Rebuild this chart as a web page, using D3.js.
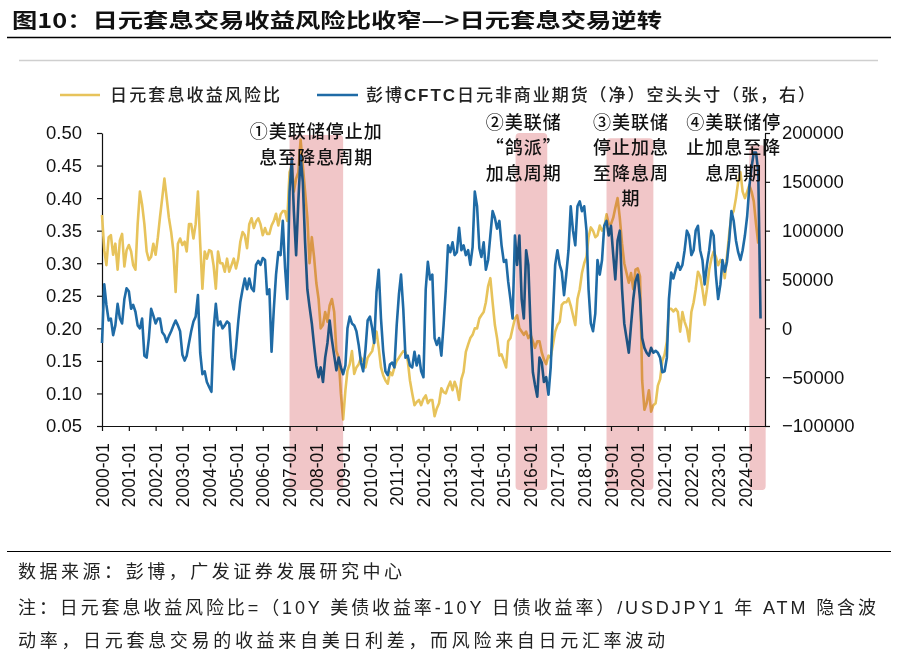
<!DOCTYPE html>
<html><head><meta charset="utf-8">
<script src="https://cdn.jsdelivr.net/npm/d3@7/dist/d3.min.js"></script>
<style>
body{margin:0;background:#fff}
svg{display:block}
text{font-family:"Noto Sans CJK SC","Liberation Sans",sans-serif}
.num{font-family:"Liberation Sans",Arial,sans-serif}
.mix{font-family:"Liberation Sans","Noto Sans CJK SC",sans-serif}
</style>
</head><body><div id="chart"></div>
<script>
// ---------------- data (monthly, starting 2000-01) ----------------
const seriesStart = [2000, 0];
const seriesNames = ["日元套息收益风险比", "彭博CFTC日元非商业期货（净）空头头寸（张，右）"];

const carryRatio = [
 0.374,0.32,0.297,0.34,0.343,0.313,0.33,0.29,0.335,0.345,0.295,0.32,
 0.328,0.318,0.297,0.29,0.36,0.41,0.39,0.36,0.318,0.305,0.31,0.33,
 0.313,0.34,0.37,0.40,0.43,0.40,0.37,0.348,0.318,0.256,0.33,0.338,
 0.328,0.333,0.318,0.36,0.36,0.338,0.36,0.41,0.33,0.261,0.318,0.307,
 0.32,0.318,0.297,0.261,0.318,0.30,0.30,0.287,0.307,0.287,0.297,0.307,
 0.292,0.307,0.333,0.348,0.343,0.323,0.36,0.369,0.354,0.364,0.369,0.36,
 0.343,0.354,0.345,0.345,0.358,0.365,0.376,0.358,0.375,0.38,0.38,0.365,
 0.44,0.45,0.41,0.43,0.44,0.49,0.45,0.41,0.37,0.30,0.34,0.31,
 0.27,0.245,0.20,0.205,0.225,0.21,0.235,0.245,0.225,0.165,0.155,0.10,
 0.06,0.105,0.135,0.145,0.165,0.13,0.14,0.145,0.155,0.15,0.14,0.155,
 0.16,0.165,0.18,0.195,0.17,0.14,0.128,0.12,0.115,0.133,0.128,0.14,
 0.15,0.155,0.16,0.165,0.163,0.15,0.12,0.10,0.082,0.087,0.09,0.082,
 0.092,0.097,0.085,0.09,0.09,0.065,0.077,0.085,0.108,0.102,0.10,0.11,
 0.118,0.105,0.118,0.108,0.09,0.122,0.133,0.164,0.175,0.185,0.19,0.20,
 0.20,0.215,0.22,0.225,0.24,0.265,0.277,0.24,0.205,0.185,0.158,0.16,
 0.15,0.14,0.18,0.185,0.20,0.215,0.22,0.20,0.195,0.19,0.195,0.185,
 0.19,0.18,0.17,0.18,0.18,0.163,0.152,0.145,0.158,0.155,0.175,0.195,
 0.205,0.21,0.236,0.24,0.24,0.246,0.235,0.22,0.205,0.245,0.26,0.285,
 0.30,0.31,0.34,0.355,0.35,0.34,0.343,0.358,0.35,0.355,0.375,0.36,
 0.36,0.37,0.385,0.40,0.37,0.33,0.30,0.285,0.27,0.285,0.26,0.29,
 0.292,0.28,0.12,0.075,0.085,0.105,0.072,0.082,0.085,0.112,0.122,0.15,
 0.16,0.18,0.23,0.23,0.226,0.23,0.225,0.195,0.225,0.21,0.20,0.18,
 0.225,0.24,0.26,0.287,0.28,0.26,0.236,0.26,0.29,0.307,0.318,0.31,
 0.297,0.305,0.30,0.277,0.31,0.345,0.374,0.38,0.40,0.425,0.44,0.41,
 0.40,0.41,0.42,0.41,0.395,0.36,0.33
];

const cftcShort = [
 -15000,45000,24000,8000,10000,-7000,3000,25000,10000,5000,30000,41000,
 38000,20000,24000,17000,3000,0,10000,-28000,-30000,-10000,20000,13000,
 5000,10000,10000,-4000,-7000,-14000,-8000,-3000,3000,8000,3000,-3000,
 -27000,-33000,-28000,-15000,-3000,7000,12000,34000,-25000,-47000,-44000,-55000,
 -60000,-65000,-2000,25000,3000,7000,0,3000,7000,5000,-30000,-42000,
 -20000,7000,27000,40000,51000,40000,51000,41000,38000,65000,69000,65000,
 72000,70000,35000,40000,-24000,20000,55000,78000,75000,110000,62000,30000,
 140000,174000,120000,75000,130000,177000,150000,88000,40000,22000,5000,-17000,
 -38000,-50000,-40000,-55000,-30000,-15000,8000,-12000,-28000,-43000,-30000,-40000,
 -47000,-38000,0,12000,5000,3000,-3000,-17000,-35000,-44000,-22000,8000,
 12000,0,-15000,37000,60000,10000,-23000,-44000,-48000,-37000,-35000,-40000,
 3000,35000,55000,20000,-30000,-28000,-38000,-40000,-24000,-38000,-28000,-44000,
 -50000,40000,68000,50000,55000,-10000,-17000,-10000,-28000,3000,40000,85000,
 78000,88000,75000,78000,103000,80000,85000,75000,80000,65000,83000,140000,
 125000,82000,73000,88000,60000,70000,95000,120000,113000,102000,110000,85000,
 68000,70000,48000,30000,10000,95000,65000,95000,30000,10000,80000,65000,
 0,-45000,-58000,-70000,-30000,-35000,-55000,-50000,-68000,-40000,15000,65000,
 80000,65000,58000,34000,55000,80000,125000,100000,85000,125000,130000,120000,
 125000,100000,40000,5000,-3000,15000,70000,55000,70000,105000,110000,95000,
 105000,75000,50000,90000,100000,40000,5000,-10000,-25000,3000,30000,48000,
 55000,30000,-10000,-20000,-25000,-28000,-20000,-25000,-23000,-25000,-30000,-45000,
 -44000,-30000,30000,57000,51000,60000,67000,60000,65000,80000,100000,95000,
 75000,80000,100000,105000,80000,70000,45000,65000,80000,100000,95000,55000,
 30000,45000,70000,58000,68000,90000,120000,110000,90000,78000,70000,80000,
 95000,115000,145000,165000,180000,180000,160000,10000
];

const leftTicks  = [0.05,0.10,0.15,0.20,0.25,0.30,0.35,0.40,0.45,0.50];
const rightTicks = [-100000,-50000,0,50000,100000,150000,200000];
const xTickYears = d3.range(2000, 2025);

const shadeSpans = [
  {start:"2007-01-01", end:"2009-01-01", topValue:0.497},
  {start:"2015-06-10", end:"2016-08-15", topValue:0.500},
  {start:"2018-11-01", end:"2020-08-01", topValue:0.492},
  {start:"2024-03-01", end:"2024-10-10", topValue:0.481}
];
const annotations = [
  {date:"2008-01-01", lines:["①美联储停止加","息至降息周期"]},
  {date:"2015-10-01", lines:["②美联储","“鸽派”","加息周期"]},
  {date:"2019-10-01", lines:["③美联储","停止加息","至降息周","期"]},
  {date:"2023-08-01", lines:["④美联储停","止加息至降","息周期"]}
];

const title = "图10：日元套息交易收益风险比收窄—>日元套息交易逆转";
const footLines = [
  "数据来源：彭博，广发证券发展研究中心",
  "注：日元套息收益风险比=（10Y 美债收益率-10Y 日债收益率）/USDJPY1 年 ATM 隐含波",
  "动率，日元套息交易的收益来自美日利差，而风险来自日元汇率波动"
];

// ---------------- drawing ----------------
const W = 897, H = 664;
const colYellow = "#E7C35B", colBlue = "#1F6BA6";
const svg = d3.select("#chart").append("svg").attr("width", W).attr("height", H);
svg.append("rect").attr("width", W).attr("height", H).attr("fill", "#fff");

const monthDate = i => new Date(seriesStart[0], seriesStart[1] + i, 1);
const yellowData = carryRatio.map((v,i)=>({d:monthDate(i), v}));
const blueData = cftcShort.map((v,i)=>({d:monthDate(i), v}));

const plot = {left:102, right:765, top:133, bottom:426};
const x = d3.scaleTime().domain([new Date(2000,0,1), new Date(2024,9,1)]).range([plot.left, plot.right]);
const yL = d3.scaleLinear().domain([0.05, 0.50]).range([plot.bottom, plot.top]);
const yR = d3.scaleLinear().domain([-100000, 200000]).range([plot.bottom, plot.top]);

// title & rules
svg.append("text").attr("x", 12).attr("y", 28).attr("font-size", 20.5).attr("font-weight", 700)
  .attr("fill", "#111").attr("textLength", 650).attr("lengthAdjust", "spacingAndGlyphs").text(title);
svg.append("line").attr("x1", 7).attr("x2", 891).attr("y1", 37.5).attr("y2", 37.5).attr("stroke", "#000").attr("stroke-width", 1.5);
svg.append("line").attr("x1", 19).attr("x2", 878).attr("y1", 60.5).attr("y2", 60.5).attr("stroke", "#cfcfcf").attr("stroke-width", 1.5);
svg.append("line").attr("x1", 7).attr("x2", 891).attr("y1", 551.5).attr("y2", 551.5).attr("stroke", "#000").attr("stroke-width", 1.2);

// legend
const lg = svg.append("g");
lg.append("line").attr("x1", 60).attr("x2", 100).attr("y1", 95).attr("y2", 95).attr("stroke", colYellow).attr("stroke-width", 2.5);
lg.append("text").attr("x", 110).attr("y", 101).attr("font-size", 17).attr("fill", "#222").attr("font-weight", 500)
  .attr("textLength", 170).attr("lengthAdjust", "spacing").text(seriesNames[0]);
lg.append("line").attr("x1", 317).attr("x2", 358).attr("y1", 95).attr("y2", 95).attr("stroke", colBlue).attr("stroke-width", 2.5);
const lt2 = lg.append("text").attr("x", 366).attr("y", 101).attr("font-size", 17).attr("fill", "#222").attr("font-weight", 500)
  .attr("textLength", 449).attr("lengthAdjust", "spacing");
const nm = seriesNames[1];
lt2.append("tspan").text(nm.slice(0,2));
lt2.append("tspan").attr("font-family", "Liberation Sans, Arial, sans-serif").attr("font-weight", 700).text(nm.slice(2,6));
lt2.append("tspan").text(nm.slice(6));

// axes
const axL = svg.append("g").attr("transform", `translate(${plot.left},0)`)
  .call(d3.axisLeft(yL).tickValues(leftTicks).tickFormat(d3.format(".2f")).tickSize(5).tickSizeOuter(0).tickPadding(15));
const axR = svg.append("g").attr("transform", `translate(${plot.right},0)`)
  .call(d3.axisRight(yR).tickValues(rightTicks).tickFormat(d3.format("d")).tickSize(5).tickSizeOuter(0).tickPadding(12));
const axX = svg.append("g").attr("transform", `translate(0,${plot.bottom})`)
  .call(d3.axisBottom(x).tickValues(xTickYears.map(y=>new Date(y,0,1))).tickFormat(d3.timeFormat("%Y-%m")).tickSize(5).tickSizeOuter(0));
[axL, axR, axX].forEach(a => {
  a.select(".domain").attr("stroke", "#111").attr("stroke-width", 1.2);
  a.selectAll(".tick line").attr("stroke", "#111").attr("stroke-width", 1.2);
  a.selectAll("text").attr("class", "num").attr("fill", "#111");
});
axL.selectAll("text").attr("font-size", 18.5);
axR.selectAll("text").attr("font-size", 18.5);
axX.selectAll("text").attr("font-size", 17.5)
  .attr("transform", "rotate(-90)").attr("text-anchor", "end")
  .attr("x", -17).attr("y", 0).attr("dy", "0.35em");

// lines
const lineL = d3.line().x(d=>x(d.d)).y(d=>yL(d.v)).curve(d3.curveLinear);
const lineR = d3.line().x(d=>x(d.d)).y(d=>yR(d.v)).curve(d3.curveLinear);
svg.append("path").datum(yellowData).attr("d", lineL).attr("fill", "none")
  .attr("stroke", colYellow).attr("stroke-width", 2.6).attr("stroke-linejoin", "round");
svg.append("path").datum(blueData).attr("d", lineR).attr("fill", "none")
  .attr("stroke", colBlue).attr("stroke-width", 2.6).attr("stroke-linejoin", "round");

// shaded periods (multiply blend like translucent overlay)
const shadeBottom = 490;
svg.append("g").selectAll("rect").data(shadeSpans).join("rect")
  .attr("x", d=>x(new Date(d.start)))
  .attr("width", d=>x(new Date(d.end)) - x(new Date(d.start)))
  .attr("y", d=>yL(d.topValue))
  .attr("height", d=>shadeBottom - yL(d.topValue))
  .attr("rx", 4)
  .attr("fill", "#F1C6C8")
  .style("mix-blend-mode", "multiply");

// annotations
const annTopY = [131, 122, 122, 122];
const annStep = [26, 25.5, 25.5, 25.5];
annotations.forEach((a,i) => {
  const t = svg.append("text").attr("text-anchor", "middle").attr("font-size", 18).attr("fill", "#111")
    .attr("font-weight", 500).attr("letter-spacing", 1);
  a.lines.forEach((ln,j) => {
    t.append("tspan").attr("x", x(new Date(a.date))).attr("y", annTopY[i] + j*annStep[i] + 6.5).text(ln);
  });
});

// footer
const footY = [578, 614, 647];
const footLen = [384, 858, 647];
footLines.forEach((s,i) => {
  svg.append("text").attr("class", "mix").attr("x", 18).attr("y", footY[i]).attr("font-size", 18).attr("fill", "#222")
    .attr("textLength", footLen[i]).attr("lengthAdjust", "spacing").text(s);
});
</script>
</body></html>
